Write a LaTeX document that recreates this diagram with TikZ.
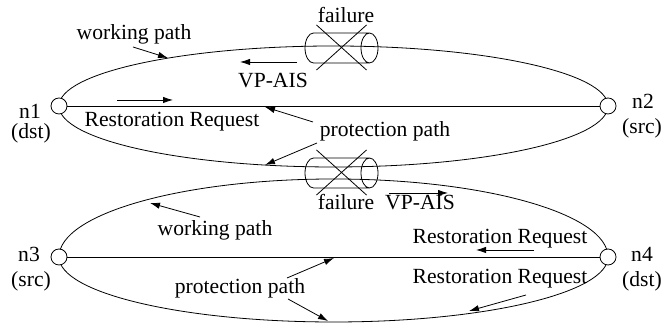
\documentclass[tikz,border=0pt]{standalone}
\usepackage{fontspec}
\setmainfont{Liberation Serif}
\usetikzlibrary{arrows.meta}
\pgfdeclarelayer{bg}
\pgfsetlayers{bg,main}

\begin{document}
\begin{tikzpicture}[x=0.5pt,y=0.5pt,
        >={Latex[length=5pt,width=3.2pt]},
        font=\fontsize{10.8}{13}\selectfont,
        site/.style={draw, circle, fill=white, minimum size=8pt, inner sep=0pt},
        tag/.style={anchor=base, inner sep=0pt},
        pics/fibrecut/.style={code={
            % tube with a cross over it
            \draw (-28,-15) arc[start angle=270, end angle=90, x radius=8.5, y radius=15]
                -- (28,15) (-28,-15) -- (28,-15) (28,0) ellipse[x radius=8.5, y radius=15];
            \draw (-25,23) -- (25,-22) (-25,-22) -- (25,23);
        }}]
        \useasboundingbox (0,0) rectangle (662,324);

        % ring nodes
        \node[site] (n1) at (59,218) {};
        \node[site] (n2) at (608,218) {};
        \node[site] (n3) at (59,67) {};
        \node[site] (n4) at (608,67) {};
        \node[tag] (n1name) at (30,205) {n1};
        \node[tag] (n1role) at (31,185) {(dst)};
        \node[tag] (n2name) at (643,215) {n2};
        \node[tag] (n2role) at (642,190) {(src)};
        \node[tag] (n3name) at (29,62) {n3};
        \node[tag] (n3role) at (31,37) {(src)};
        \node[tag] (n4name) at (642,62) {n4};
        \node[tag] (n4role) at (642,37) {(dst)};

        % links
        \begin{pgfonlayer}{bg}
            \draw (n1) -- (n2);
            \draw (n3) -- (n4);
            \draw (n1.center) arc[start angle=180, end angle=0, x radius=274.5, y radius=60];
            \draw (n1.center) arc[start angle=180, end angle=360, x radius=274.5, y radius=61];
            \draw (n3.center) arc[start angle=180, end angle=0, x radius=274.5, y radius=78];
            \draw (n3.center) arc[start angle=180, end angle=360, x radius=274.5, y radius=65];
        \end{pgfonlayer}

        % cut fibres
        \pic at (341.5,276) {fibrecut};
        \pic at (341.5,151) {fibrecut};

        % texts
        \node[tag] (wp1) at (134,284) {working path};
        \node[tag] (fail1) at (346,301) {failure};
        \node[tag] (ais1) at (273,236) {VP-AIS};
        \node[tag] (rr1) at (172,197) {Restoration Request};
        \node[tag] (pp1) at (385,187) {protection path};
        \node[tag] (fail2) at (346,114) {failure};
        \node[tag] (ais2) at (420,114) {VP-AIS};
        \node[tag] (wp2) at (215,88) {working path};
        \node[tag] (pp2) at (240,30) {protection path};
        \node[tag] (rr2) at (500,80) {Restoration Request};
        \node[tag] (rr3) at (500,40) {Restoration Request};

        % arrow ends
        \coordinate (wp1s) at (133,277);  \coordinate (wp1e) at (168,266);
        \coordinate (ais1s) at (297,262); \coordinate (ais1e) at (240,262);
        \coordinate (rr1s) at (117,224);  \coordinate (rr1e) at (173,224);
        \coordinate (pp1as) at (313,202); \coordinate (pp1ae) at (265,217);
        \coordinate (pp1bs) at (317,181); \coordinate (pp1be) at (265,159);
        \coordinate (ais2s) at (389,131); \coordinate (ais2e) at (448,131);
        \coordinate (wp2s) at (200,107);  \coordinate (wp2e) at (150,121);
        \coordinate (pp2as) at (287,46);  \coordinate (pp2ae) at (334,66);
        \coordinate (pp2bs) at (288,25);  \coordinate (pp2be) at (328,3);
        \coordinate (rr2s) at (534,74);   \coordinate (rr2e) at (476,74);
        \coordinate (rr3s) at (526,29);   \coordinate (rr3e) at (469,13);

        \draw[->] (wp1s) -- (wp1e);
        \draw[->] (ais1s) -- (ais1e);
        \draw[->] (rr1s) -- (rr1e);
        \draw[->] (pp1as) -- (pp1ae);
        \draw[->] (pp1bs) -- (pp1be);
        \draw[->] (ais2s) -- (ais2e);
        \draw[->] (wp2s) -- (wp2e);
        \draw[->] (pp2as) -- (pp2ae);
        \draw[->] (pp2bs) -- (pp2be);
        \draw[->] (rr2s) -- (rr2e);
        \draw[->] (rr3s) -- (rr3e);
\end{tikzpicture}
\end{document}
